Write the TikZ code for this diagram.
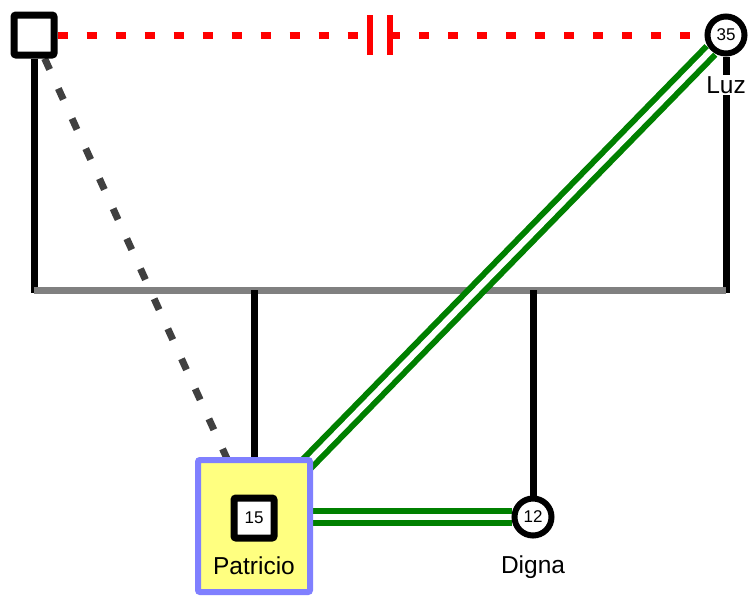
\documentclass[tikz,border=0pt]{standalone}
\usepackage{fontspec}
\setmainfont{Liberation Sans}
\usepackage{tikz}
\usetikzlibrary{positioning}
\definecolor{tiegreen}{RGB}{0,128,0}
\definecolor{sibgray}{RGB}{128,128,128}
\definecolor{focusfill}{RGB}{255,255,128}
\definecolor{focusdraw}{RGB}{128,128,255}
\definecolor{distgray}{RGB}{64,64,64}
\pgfdeclarelayer{background}
\pgfsetlayers{background,main}

\begin{document}
\begin{tikzpicture}[
    x=1pt, y=-1pt,
    male/.style={draw, line width=7, fill=white, rounded corners=2,
                 minimum size=40, inner sep=0, font=\fontsize{17}{18}\selectfont},
    female/.style={circle, draw, line width=6, fill=white,
                   minimum size=37, inner sep=0, font=\fontsize{17}{18}\selectfont},
    focusbox/.style={draw=focusdraw, fill=focusfill, line width=6, rounded corners=2,
                     minimum width=112, minimum height=132, inner sep=0},
    persname/.style={font=\fontsize{24.5}{27}\selectfont, fill=white, inner sep=1},
    parentline/.style={line width=7},
    sibline/.style={sibgray, line width=7},
    divorced/.style={red, line width=7, dash pattern=on 10 off 19},
    divbar/.style={red, line width=6},
    distant/.style={distgray, line width=7, dash pattern=on 12 off 21},
    closetie/.style={draw=tiegreen, line width=6, double=white, double distance=6},
]
    \useasboundingbox (0,0) rectangle (752,598);

    % parents
    \node[male] (father) at (34,35) {};
    \node[female] (luz) at (726,35) {35};
    \node[persname] (luzname) at (726,85) {Luz};

    % children
    \node[focusbox] (patricio) at (254,526) {};
    \node[male] (pat) at (254,518) {15};
    \node[persname, fill=none] (patname) at (254,566) {Patricio};
    \node[female] (digna) at (533,517) {12};
    \node[persname] (dignaname) at (533,567) {Digna};

    % marriage, ended by divorce
    \coordinate (cutL) at (370,35);
    \coordinate (cutR) at (390,35);
    \draw[divorced] (father) -- (cutL);
    \draw[divorced] (cutR) -- (luz);
    \draw[divbar] (cutL) ++(0,-20) -- ++(0,40);
    \draw[divbar] (cutR) ++(0,-20) -- ++(0,40);

    \begin{pgfonlayer}{background}
        % sibship line
        \coordinate (sibL) at (34,290);
        \coordinate (sibR) at (726,290);
        \draw[parentline] (father) -- ([yshift=-3]sibL);
        \draw[parentline] (luz) -- ([yshift=-3]sibR);
        \draw[sibline] (sibL) -- (sibR);
        \draw[parentline] (pat) -- (pat |- sibL);
        \draw[parentline] (digna) -- (digna |- sibL);

        % relationships
        \draw[distant] (father) -- (pat);
        \draw[closetie] (luz) -- (pat);
        \draw[closetie] (digna -| pat) -- (digna);
    \end{pgfonlayer}
\end{tikzpicture}
\end{document}
